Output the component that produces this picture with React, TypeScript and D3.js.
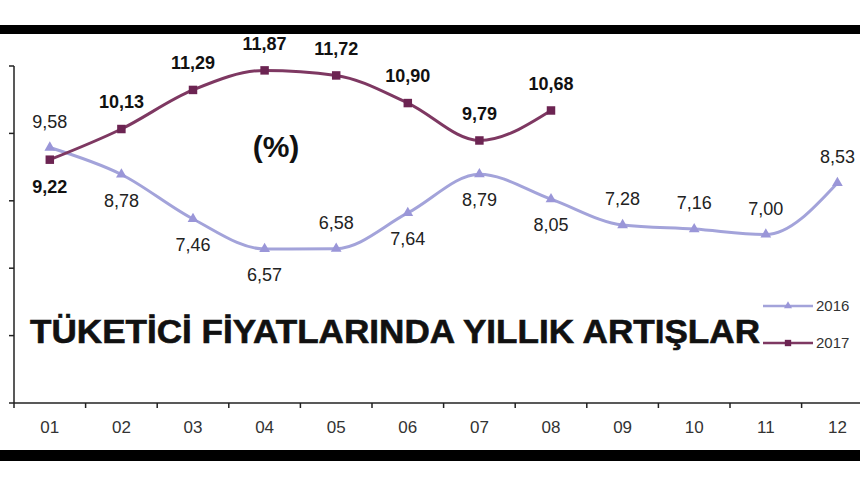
import * as d3 from "d3";

const MONTHS = ["01", "02", "03", "04", "05", "06", "07", "08", "09", "10", "11", "12"];
const Y2016 = [9.58, 8.78, 7.46, 6.57, 6.58, 7.64, 8.79, 8.05, 7.28, 7.16, 7.0, 8.53];
const Y2017 = [9.22, 10.13, 11.29, 11.87, 11.72, 10.9, 9.79, 10.68];
const Y_TICKS = [2, 4, 6, 8, 10, 12];
const SERIES_NAMES = ["2016", "2017"];

// which side of the point each value label sits on
const SIDE_2016 = [-1, 1, 1, 1, -1, 1, 1, 1, -1, -1, -1, -1];
const SIDE_2017 = [1, -1, -1, -1, -1, -1, -1, -1];

const W = 860, H = 480;
const C16 = "#a3a3da", M16 = "#9a96d8";
const C17 = "#7e3862", M17 = "#6c2452";
const FONT = "'Liberation Sans', Arial, sans-serif";

const fmt = (v: number) => v.toFixed(2).replace(".", ",");

export default function App() {
  const x = d3.scalePoint<string>().domain(MONTHS).range([14, 14 + 71.6 * 12]).padding(0.5);
  const step = x.step();
  const y = d3.scaleLinear().domain([2, 12]).range([403, 66]);

  const line = d3.line<number>()
    .x((_, i) => x(MONTHS[i])!)
    .y(d => y(d))
    .curve(d3.curveMonotoneX);

  const tri = d3.symbol(d3.symbolTriangle, 50)()!;
  const sq = d3.symbol(d3.symbolSquare, 72)()!;

  const xTicks = d3.range(MONTHS.length + 1).map(i => 14 + i * step);

  return (
    <svg width={W} height={H} viewBox={`0 0 ${W} ${H}`}
      style={{ position: "absolute", left: 0, top: 0, background: "#fff", fontFamily: FONT }}>
      <rect x={0} y={0} width={W} height={H} fill="#fff" />
      {/* frame bars */}
      <rect x={0} y={25} width={W} height={9} fill="#000" />
      <rect x={0} y={450} width={W} height={11} fill="#000" />

      {/* y axis */}
      <line x1={14} x2={14} y1={y(12)} y2={y(2)} stroke="#222" strokeWidth={1.5} />
      {Y_TICKS.map(t => (
        <line key={t} x1={9} x2={14} y1={y(t)} y2={y(t)} stroke="#222" strokeWidth={1.5} />
      ))}

      {/* x axis */}
      <line x1={14} x2={W} y1={y(2)} y2={y(2)} stroke="#222" strokeWidth={1.5} />
      {xTicks.map((t, i) => (
        <line key={i} x1={t} x2={t} y1={y(2)} y2={y(2) + 5} stroke="#222" strokeWidth={1.5} />
      ))}
      {MONTHS.map(m => (
        <text key={m} x={x(m)} y={433} textAnchor="middle" fontSize={17} fill="#333">{m}</text>
      ))}

      {/* title */}
      <text x={30} y={343} fontSize={34} fontWeight="bold" fill="#111" stroke="#111" strokeWidth={0.6}
        textLength={730} lengthAdjust="spacingAndGlyphs">TÜKETİCİ FİYATLARINDA YILLIK ARTIŞLAR</text>
      <text x={276} y={157} fontSize={30} fontWeight="bold" fill="#111" textAnchor="middle">(%)</text>

      {/* 2016 */}
      <path d={line(Y2016)!} fill="none" stroke={C16} strokeWidth={3} />
      {Y2016.map((v, i) => (
        <path key={i} d={tri} transform={`translate(${x(MONTHS[i])},${y(v)})`} fill={M16} />
      ))}
      {Y2016.map((v, i) => (
        <text key={i} x={x(MONTHS[i])} y={y(v) + SIDE_2016[i] * 26} dy="0.35em" textAnchor="middle"
          fontSize={18} fill="#222">{fmt(v)}</text>
      ))}

      {/* 2017 */}
      <path d={line(Y2017)!} fill="none" stroke={C17} strokeWidth={3} />
      {Y2017.map((v, i) => (
        <path key={i} d={sq} transform={`translate(${x(MONTHS[i])},${y(v)})`} fill={M17} />
      ))}
      {Y2017.map((v, i) => (
        <text key={i} x={x(MONTHS[i])} y={y(v) + SIDE_2017[i] * 27} dy="0.35em" textAnchor="middle"
          fontSize={18} fontWeight="bold" fill="#111">{fmt(v)}</text>
      ))}

      {/* legend */}
      {SERIES_NAMES.map((name, i) => {
        const ly = 306 + i * 37;
        return (
          <g key={name}>
            <line x1={763} x2={813} y1={ly} y2={ly} stroke={i ? C17 : C16} strokeWidth={2.5} />
            <path d={i ? sq : tri} transform={`translate(788,${ly}) scale(0.75)`} fill={i ? M17 : M16} />
            <text x={816} y={ly} dy="0.35em" fontSize={15} fill="#333">{name}</text>
          </g>
        );
      })}
    </svg>
  );
}
